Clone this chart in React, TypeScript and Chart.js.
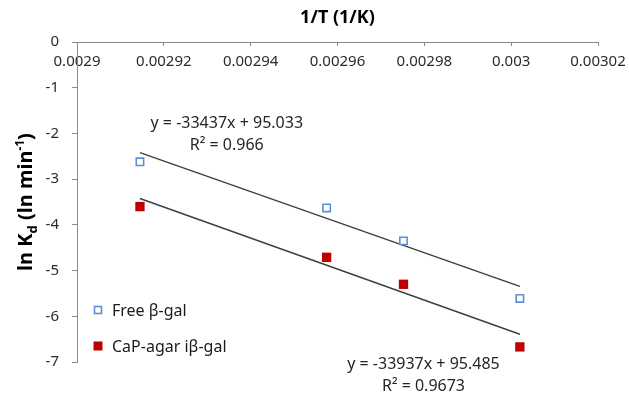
import React, { useEffect, useRef } from "react";
import { Chart, registerables } from "chart.js";

Chart.register(...registerables);

// 1/T values (1/K) shared by both series
const invTemp = [0.0029145, 0.0029575, 0.0029752, 0.003002];
// ln Kd values
const freeLnKd = [-2.62, -3.63, -4.35, -5.61];
const capLnKd = [-3.6, -4.71, -5.3, -6.67];

const seriesNames = ["Free β-gal", "CaP-agar iβ-gal"];

// linear fits: slope, intercept, R²
const fitSlopes = [-33437, -33937];
const fitIntercepts = [95.033, 95.485];
const fitR2 = [0.966, 0.9673];

const xTickValues = [0.0029, 0.00292, 0.00294, 0.00296, 0.00298, 0.003, 0.00302];
const xTickLabels = ["0.0029", "0.00292", "0.00294", "0.00296", "0.00298", "0.003", "0.00302"];
const yTickValues = [-7, -6, -5, -4, -3, -2, -1, 0];
const yTickLabels = ["-7", "-6", "-5", "-4", "-3", "-2", "-1", "0"];

const xTitle = "1/T (1/K)";

const FONT = '"Noto Sans", "Liberation Sans", sans-serif';
const AXIS_GRAY = "#8a8a8a";
const TEXT_DARK = "#2b2b2b";
const FREE_BLUE = "#5b8fd8";
const CAP_RED = "#c00000";
const TREND = "#404040";

// where the fit equations sit, in data units (centre of the first line)
const EQ_ANCHORS = [
  { x: 0.0029345, y: -1.79 },
  { x: 0.0029798, y: -7.06 },
];

const overlay = {
  id: "overlay",
  afterDraw(chart: any) {
    const { ctx, chartArea, scales } = chart;
    const xs = scales.x;
    const ys = scales.y;
    ctx.save();

    // top axis title
    ctx.fillStyle = "#000";
    ctx.font = `bold 18px ${FONT}`;
    ctx.textAlign = "center";
    ctx.textBaseline = "middle";
    ctx.fillText(xTitle, (chartArea.left + chartArea.right) / 2, 18);

    // vertical axis title with subscript / superscript
    const parts = [
      { t: "ln K", f: `bold 20px ${FONT}`, dy: 0 },
      { t: "d", f: `bold 13px ${FONT}`, dy: 5 },
      { t: " (ln min", f: `bold 20px ${FONT}`, dy: 0 },
      { t: "-1", f: `bold 12px ${FONT}`, dy: -8 },
      { t: ")", f: `bold 20px ${FONT}`, dy: 0 },
    ];
    let total = 0;
    const widths = parts.map((p) => {
      ctx.font = p.f;
      const w = ctx.measureText(p.t).width;
      total += w;
      return w;
    });
    ctx.save();
    ctx.translate(24, (chartArea.top + chartArea.bottom) / 2);
    ctx.rotate(-Math.PI / 2);
    ctx.textAlign = "left";
    ctx.textBaseline = "alphabetic";
    let cx = -total / 2;
    parts.forEach((p, i) => {
      ctx.font = p.f;
      ctx.fillText(p.t, cx, 8 + p.dy);
      cx += widths[i];
    });
    ctx.restore();

    // fit equations
    ctx.fillStyle = "#262626";
    ctx.font = `16px ${FONT}`;
    ctx.textAlign = "center";
    ctx.textBaseline = "middle";
    fitSlopes.forEach((m, i) => {
      const px = xs.getPixelForValue(EQ_ANCHORS[i].x);
      const py = ys.getPixelForValue(EQ_ANCHORS[i].y);
      ctx.fillText(`y = ${m}x + ${fitIntercepts[i]}`, px, py);
      ctx.fillText(`R² = ${fitR2[i]}`, px, py + 22);
    });

    // legend inside the plot, lower left
    const rows = [chartArea.bottom - 52, chartArea.bottom - 16];
    const mx = chartArea.left + 21;
    ctx.textAlign = "left";
    ctx.font = `16px ${FONT}`;
    seriesNames.forEach((name, i) => {
      const ry = rows[i];
      if (i === 0) {
        ctx.strokeStyle = FREE_BLUE;
        ctx.lineWidth = 1.6;
        ctx.fillStyle = "#fff";
        ctx.fillRect(mx - 3.5, ry - 3.5, 7, 7);
        ctx.strokeRect(mx - 3.5, ry - 3.5, 7, 7);
      } else {
        ctx.fillStyle = CAP_RED;
        ctx.fillRect(mx - 4.5, ry - 4.5, 9, 9);
      }
      ctx.fillStyle = "#1a1a1a";
      ctx.fillText(name, mx + 14, ry + 1);
    });

    ctx.restore();
  },
};

export default function App() {
  const ref = useRef<HTMLCanvasElement>(null);

  useEffect(() => {
    document.body.style.margin = "0";
    const xMin = Math.min(...invTemp);
    const xMax = Math.max(...invTemp);
    const trend = (i: number) => [
      { x: xMin, y: fitSlopes[i] * xMin + fitIntercepts[i] },
      { x: xMax, y: fitSlopes[i] * xMax + fitIntercepts[i] },
    ];

    const chart = new Chart(ref.current as HTMLCanvasElement, {
      type: "scatter",
      data: {
        datasets: [
          {
            label: seriesNames[0],
            data: invTemp.map((x, i) => ({ x, y: freeLnKd[i] })),
            pointStyle: "rect",
            pointRadius: 5.2,
            borderWidth: 1.6,
            borderColor: FREE_BLUE,
            backgroundColor: "#ffffff",
            order: 1,
          },
          {
            label: seriesNames[1],
            data: invTemp.map((x, i) => ({ x, y: capLnKd[i] })),
            pointStyle: "rect",
            pointRadius: 6.6,
            borderWidth: 0,
            borderColor: CAP_RED,
            backgroundColor: CAP_RED,
            order: 1,
          },
          {
            label: "fit-free",
            data: trend(0),
            showLine: true,
            pointRadius: 0,
            borderColor: TREND,
            borderWidth: 1.5,
            order: 2,
          },
          {
            label: "fit-cap",
            data: trend(1),
            showLine: true,
            pointRadius: 0,
            borderColor: TREND,
            borderWidth: 1.5,
            order: 2,
          },
        ],
      },
      options: {
        animation: false,
        responsive: false,
        devicePixelRatio: 1,
        layout: { padding: { left: 0, top: 0, right: 31, bottom: 34 } },
        plugins: {
          legend: { display: false },
          tooltip: { enabled: false },
        },
        scales: {
          x: {
            type: "linear",
            position: "top",
            min: 0.0029,
            max: 0.00302,
            afterBuildTicks: (s: any) => {
              s.ticks = xTickValues.map((value) => ({ value }));
            },
            afterFit: (s: any) => {
              s.height = 42;
              s.paddingLeft = 0;
              s.paddingRight = 0;
            },
            ticks: {
              mirror: true,
              padding: 11,
              maxRotation: 0,
              autoSkip: false,
              color: TEXT_DARK,
              font: { family: FONT, size: 15 },
              callback: (_v: any, i: number) => xTickLabels[i],
            },
            grid: {
              drawOnChartArea: false,
              drawTicks: true,
              tickLength: -4,
              color: AXIS_GRAY,
            },
            border: { color: AXIS_GRAY, width: 1 },
          },
          y: {
            type: "linear",
            min: -7,
            max: 0,
            afterBuildTicks: (s: any) => {
              s.ticks = yTickValues.map((value) => ({ value }));
            },
            afterFit: (s: any) => {
              s.width = 77;
              s.paddingTop = 0;
              s.paddingBottom = 0;
            },
            ticks: {
              padding: 13,
              autoSkip: false,
              color: TEXT_DARK,
              font: { family: FONT, size: 15 },
              callback: (_v: any, i: number) => yTickLabels[i],
            },
            grid: {
              drawOnChartArea: false,
              drawTicks: true,
              tickLength: 5,
              color: AXIS_GRAY,
            },
            border: { color: AXIS_GRAY, width: 1 },
          },
        },
      },
      plugins: [overlay],
    });
    return () => chart.destroy();
  }, []);

  return (
    <div style={{ width: 629, height: 396 }}>
      <canvas ref={ref} width={629} height={396} style={{ display: "block" }} />
    </div>
  );
}
